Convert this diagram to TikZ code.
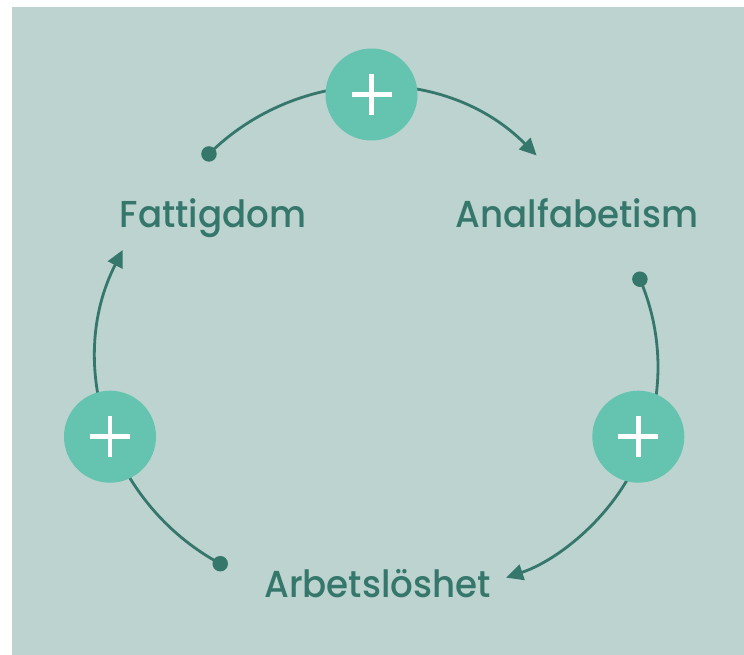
\documentclass[tikz,border=0pt]{standalone}
\usepackage{fontspec}
\setmainfont{Poppins}[UprightFont=* Medium]
\usetikzlibrary{arrows.meta}
\definecolor{bgcol}{RGB}{188,211,207}
\definecolor{pluscol}{RGB}{100,196,176}
\definecolor{inkcol}{RGB}{53,119,107}
\tikzset{
  link/.style={draw=inkcol, line width=2.8pt, -{Triangle[length=17pt,width=16pt]}},
  startdot/.style={circle, fill=inkcol, inner sep=0pt, minimum size=15.5pt},
  plusnode/.style={circle, fill=pluscol, inner sep=0pt, minimum size=92pt},
  plusbar/.style={draw=white, line width=4.6pt},
  label/.style={text=inkcol, font=\fontsize{37.5}{40}\selectfont, anchor=base, inner sep=0pt, xscale=0.95}
}
\begin{document}
\begin{tikzpicture}[x=1pt,y=1pt]
  \useasboundingbox (0,0) rectangle (744,655);
  \fill[bgcol] (12,0) rectangle (744,648);

  % centres of the three connecting arcs
  \coordinate (ctop) at (372,336);
  \coordinate (cright) at (436,288);
  \coordinate (cleft) at (332,298);

  % start points of the arcs
  \coordinate (d1) at ([shift={(134.65:232)}]ctop);
  \coordinate (d2) at ([shift={(23.3:222)}]cright);
  \coordinate (d3) at ([shift={(241.6:235)}]cleft);

  % arcs
  \draw[link] (d1) arc[start angle=134.65, end angle=44.8, radius=232];
  \draw[link] (d2) arc[start angle=23.3, end angle=-71.6, radius=222];
  \draw[link] (d3) arc[start angle=241.6, end angle=152.9, radius=235];

  \node[startdot] (s1) at (d1) {};
  \node[startdot] (s2) at (d2) {};
  \node[startdot] (s3) at (d3) {};

  % plus badges
  \foreach \n/\p in {ptop/{(371.5,560.5)}, pleft/{(110,218.3)}, pright/{(638.3,218.3)}} {
    \node[plusnode] (\n) at \p {};
    \draw[plusbar] ([xshift=-20pt]\n.center) -- ([xshift=20pt]\n.center);
    \draw[plusbar] ([yshift=-20.5pt]\n.center) -- ([yshift=20.5pt]\n.center);
  }

  % labels
  \node[label] (fattigdom) at (213,427) {Fattigdom};
  \node[label] (analfabetism) at (577,427) {Analfabetism};
  \node[label] (arbetsloshet) at (377.5,57) {Arbetslöshet};
\end{tikzpicture}
\end{document}
